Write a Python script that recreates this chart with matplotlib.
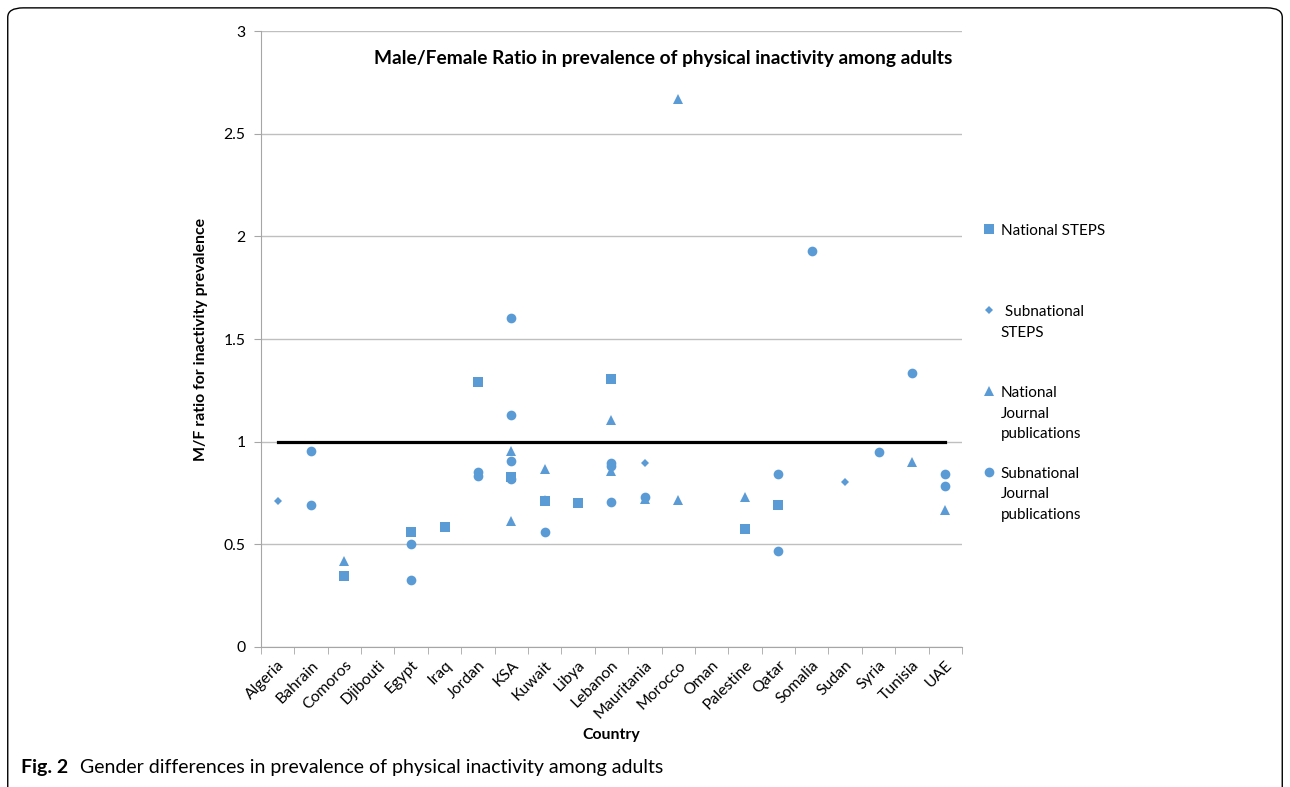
import matplotlib.pyplot as plt
from matplotlib.patches import FancyBboxPatch

countries = ['Algeria', 'Bahrain', 'Comoros', 'Djibouti', 'Egypt', 'Iraq', 'Jordan',
             'KSA', 'Kuwait', 'Libya', 'Lebanon', 'Mauritania', 'Morocco', 'Oman',
             'Palestine', 'Qatar', 'Somalia', 'Sudan', 'Syria', 'Tunisia', 'UAE']

# National STEPS
nat_steps_c = ['Comoros', 'Egypt', 'Iraq', 'Jordan', 'KSA', 'Kuwait', 'Libya',
               'Lebanon', 'Palestine', 'Qatar']
nat_steps_v = [0.346, 0.559, 0.583, 1.289, 0.829, 0.709, 0.700, 1.304, 0.573, 0.690]

# Subnational STEPS
sub_steps_c = ['Algeria', 'Mauritania', 'Sudan']
sub_steps_v = [0.711, 0.895, 0.802]

# National journal publications
nat_jour_c = ['Comoros', 'KSA', 'KSA', 'Kuwait', 'Kuwait', 'Lebanon', 'Lebanon',
              'Mauritania', 'Morocco', 'Morocco', 'Palestine', 'Tunisia', 'UAE']
nat_jour_v = [0.419, 0.956, 0.612, 0.867, 0.715, 1.106, 0.859,
              0.720, 2.669, 0.716, 0.731, 0.902, 0.669]

# Subnational journal publications
sub_jour_c = ['Bahrain', 'Bahrain', 'Egypt', 'Egypt', 'Jordan', 'Jordan', 'KSA', 'KSA',
              'KSA', 'KSA', 'Kuwait', 'Lebanon', 'Lebanon', 'Lebanon', 'Mauritania',
              'Qatar', 'Qatar', 'Somalia', 'Syria', 'Tunisia', 'UAE', 'UAE']
sub_jour_v = [0.953, 0.692, 0.502, 0.326, 0.854, 0.834, 1.601, 1.131,
              0.907, 0.817, 0.562, 0.898, 0.882, 0.705, 0.729,
              0.841, 0.469, 1.929, 0.951, 1.333, 0.841, 0.786]

ref_ratio = [1.0] * len(countries)

blue = '#5B9BD5'
plt.rcParams['font.family'] = ['Lato', 'DejaVu Sans']

fig = plt.figure(figsize=(12.9, 7.87), dpi=100)
ax = fig.add_axes([0.2023, 0.1779, 0.5434, 0.7827])


def idx(names):
    return [countries.index(n) for n in names]


ax.plot(range(len(countries)), ref_ratio, color='black', lw=2.3, zorder=2)
ax.plot(idx(nat_steps_c), nat_steps_v, 's', color=blue, ms=6.5, mew=0,
        label='National STEPS\n\n', zorder=3)
ax.plot(idx(sub_steps_c), sub_steps_v, 'D', color=blue, ms=4, mew=0,
        label=' Subnational\nSTEPS\n', zorder=3)
ax.plot(idx(nat_jour_c), nat_jour_v, '^', color=blue, ms=7, mew=0,
        label='National\nJournal\npublications', zorder=3)
ax.plot(idx(sub_jour_c), sub_jour_v, 'o', color=blue, ms=7, mew=0,
        label='Subnational\nJournal\npublications', zorder=3)

ax.set_xlim(-0.5, len(countries) - 0.5)
ax.set_ylim(0, 3)
ax.set_yticks([0, 0.5, 1, 1.5, 2, 2.5, 3])
ax.set_yticklabels(['0', '0.5', '1', '1.5', '2', '2.5', '3'])
ax.yaxis.grid(True, color='#BFBFBF', lw=1)
ax.set_axisbelow(True)

ax.set_xticks(range(len(countries)))
ax.set_xticklabels(countries, rotation=45, ha='right', rotation_mode='anchor')
ax.set_xticks([i - 0.5 for i in range(len(countries) + 1)], minor=True)
ax.tick_params(axis='x', which='major', length=0, pad=8, labelsize=11.3)
ax.tick_params(axis='x', which='minor', length=5, color='#A6A6A6')
ax.tick_params(axis='y', length=5, color='#A6A6A6', labelsize=11.3, pad=6)

for s in ['top', 'right']:
    ax.spines[s].set_visible(False)
ax.spines['left'].set_color('#A6A6A6')
ax.spines['bottom'].set_color('#A6A6A6')

ax.set_ylabel('M/F ratio for inactivity prevalence', fontsize=11.4,
              fontweight='bold', labelpad=11)
ax.set_xlabel('Country', fontsize=11.4, fontweight='bold', labelpad=5)
ax.text(0.986, 0.956, 'Male/Female Ratio in prevalence of physical inactivity among adults',
        transform=ax.transAxes, ha='right', va='center', fontsize=13.8,
        fontweight='bold')

leg = fig.legend(loc='upper left', bbox_to_anchor=(983 / 1290, 1 - 224 / 787),
                 frameon=False, fontsize=11, labelspacing=1.65, handlelength=0.8,
                 handletextpad=0.35, borderaxespad=0, borderpad=0)
for t in leg.get_texts():
    t.set_linespacing(1.62)
for col in leg._legend_handle_box.get_children():
    for item in col.get_children():
        item.align = 'top'

fig.text(0.016, 0.025, 'Fig. 2', fontsize=14, fontweight='bold', va='center')
fig.text(0.062, 0.025, 'Gender differences in prevalence of physical inactivity among adults',
         fontsize=14, va='center')

frame = FancyBboxPatch((0.006, -0.02), 0.988, 1.01, boxstyle='round,pad=0,rounding_size=0.012',
                       transform=fig.transFigure, fill=False, ec='black', lw=1)
fig.patches.append(frame)

fig.savefig('out.png', dpi=100)
